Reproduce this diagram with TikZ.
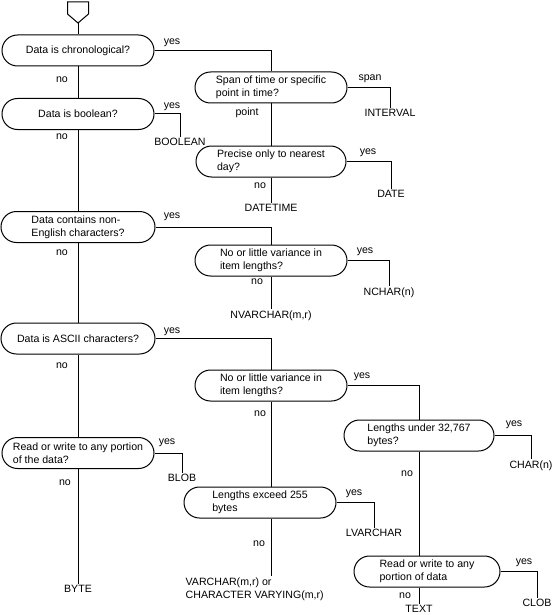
\documentclass[tikz,border=0pt]{standalone}
\usepackage{fontspec}
\setmainfont{Liberation Sans}
\usetikzlibrary{calc}

\begin{document}
\begin{tikzpicture}[x=1pt, y=-1pt,
  font=\fontsize{10.6}{13}\selectfont,
  q/.style={draw, line width=1pt, rounded corners=15.5pt, align=left,
            minimum height=31pt, inner sep=3pt, minimum width=#1},
  q/.default=152,
  res/.style={inner sep=1.5pt},
  lab/.style={inner sep=1pt},
  ln/.style={line width=1pt}]
\useasboundingbox (0,0) rectangle (554,615);
% start marker
\draw[ln] (67.5,2) -- (88.5,2) -- (88.5,14) -- (78,23) -- (67.5,14) -- cycle;
\coordinate (start) at (78,23);
% questions, left column
\node[q] (chrono) at (78,50.5) {Data is chronological?};
\node[q] (bool) at (78,114) {Data is boolean?};
\node[q=154] (noneng) at (78,227) {Data contains non-\\English characters?};
\node[q=154] (ascii) at (78,338.5) {Data is ASCII characters?};
\node[q] (blobq) at (78,453) {Read or write to any portion\\of the data?};
% questions, middle column
\node[q] (span) at (271,87.5) {Span of time or specific\\point in time?};
\node[q=150] (day) at (271,161.5) {Precise only to nearest\\day?};
\node[q] (nvar) at (271,260.5) {No or little variance in\\item lengths?};
\node[q] (var) at (271,385.5) {No or little variance in\\item lengths?};
\node[q] (exceed) at (260,502.5) {Lengths exceed 255\\bytes};
% questions, right column
\node[q=150] (under) at (419,435.5) {Lengths under 32,767\\bytes?};
\node[q=146] (clobq) at (427,571.5) {Read or write to any\\portion of data};
% data types
\node[res] (interval) at (390,113) {INTERVAL};
\node[res] (boolean) at (180,142) {BOOLEAN};
\node[res] (date) at (391,194) {DATE};
\node[res] (datetime) at (271,208) {DATETIME};
\node[res] (nchar) at (389,293) {NCHAR(n)};
\node[res] (nvarchar) at (271,316) {NVARCHAR(m,r)};
\node[res] (charn) at (531,466) {CHAR(n)};
\node[res] (blob) at (182,478) {BLOB};
\node[res] (lvarchar) at (374,533) {LVARCHAR};
\node[res] (byteres) at (78,589) {BYTE};
\node[res, align=left, anchor=west] (varchar) at (184,589.5) {VARCHAR(m,r) or\\CHARACTER VARYING(m,r)};
\node[res] (clob) at (537,603) {CLOB};
\node[res] (textres) at (419,609) {TEXT};
% answers
\node[lab] (chronoyes) at (172,43) {yes};
\node[lab] (chronono) at (62,80) {no};
\node[lab] (spanspan) at (370,79) {span};
\node[lab] (spanpoint) at (247,113) {point};
\node[lab] (boolyes) at (172,107) {yes};
\node[lab] (boolno) at (62,137) {no};
\node[lab] (dayyes) at (368,153) {yes};
\node[lab] (dayno) at (260,186) {no};
\node[lab] (nonengyes) at (172,217) {yes};
\node[lab] (nonengno) at (62,253) {no};
\node[lab] (nvaryes) at (365,252) {yes};
\node[lab] (nvarno) at (257,282) {no};
\node[lab] (asciiyes) at (172,332) {yes};
\node[lab] (asciino) at (62,366) {no};
\node[lab] (varyes) at (362,377) {yes};
\node[lab] (varno) at (260,414) {no};
\node[lab] (underyes) at (514,425) {yes};
\node[lab] (underno) at (407,474) {no};
\node[lab] (blobqyes) at (167,443) {yes};
\node[lab] (blobqno) at (65,483) {no};
\node[lab] (exceedyes) at (354,494) {yes};
\node[lab] (exceedno) at (259,544) {no};
\node[lab] (clobqyes) at (524,563) {yes};
\node[lab] (clobqno) at (405,596) {no};
% connectors
\draw[ln] (start) -- (chrono.north);
\foreach \a/\b in {chrono/bool, bool/noneng, noneng/ascii, ascii/blobq, blobq/byteres,
                   span/day, day/datetime, nvar/nvarchar}
  \draw[ln] (\a.south) -- (\b.north);
\foreach \a/\b in {chrono/span, bool/boolean, span/interval, day/date, noneng/nvar,
                   nvar/nchar, ascii/var, var/under, under/charn, blobq/blob,
                   exceed/lvarchar, clobq/clob}
  \draw[ln] (\a.east) -| (\b.north);
\draw[ln] (var.south) -- (var.south |- exceed.north);
\draw[ln] (var.south |- exceed.south) -- (var.south |- varchar.north);
\draw[ln] (under.south) -- (under.south |- clobq.north);
\draw[ln] (under.south |- clobq.south) -- (textres.north);
\end{tikzpicture}
\end{document}
